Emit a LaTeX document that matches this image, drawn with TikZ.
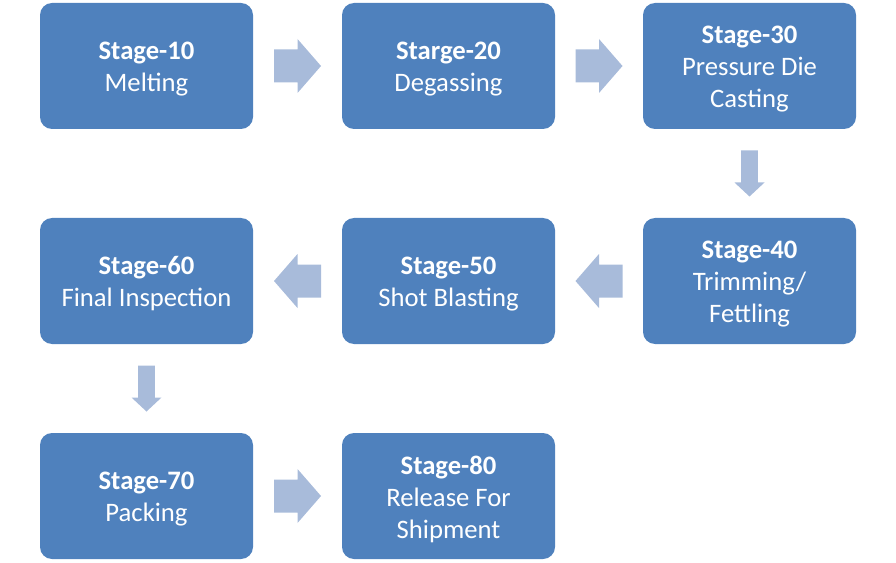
\documentclass[tikz,border=0pt]{standalone}
\usepackage{fontspec}
\setmainfont{Carlito}
\usetikzlibrary{calc}
\definecolor{boxblue}{HTML}{4F81BD}
\definecolor{arrowblue}{HTML}{A8BBDA}
\begin{document}
\begin{tikzpicture}[x=0.75pt,y=-0.75pt,
  stagebox/.style={fill=boxblue, rounded corners=9pt, minimum width=159.75pt,
    minimum height=94.5pt, inner sep=0pt,
    label={[stagetext]center:{#1}}},
  stagetext/.style={text=white, align=center, inner sep=0pt, yshift=-2.25pt,
    font=\fontsize{20}{24}\selectfont},
  harrow/.pic={\fill[arrowblue] (-23.5,16.5) -- (0,16.5) -- (0,27) -- (23.5,0)
    -- (0,-27) -- (0,-16.5) -- (-23.5,-16.5) -- cycle;},
  varrow/.pic={\fill[arrowblue] (-8.3,-23) -- (8.3,-23) -- (8.3,9) -- (15,9)
    -- (0,23) -- (-15,9) -- (-8.3,9) -- cycle;}]
\useasboundingbox (0,0) rectangle (896,563);
\node[stagebox={\textbf{Stage-10}\\Melting}] (s10) at (146.5,66) {};
\node[stagebox={\textbf{Starge-20}\\Degassing}] (s20) at (448.5,66) {};
\node[stagebox={\textbf{Stage-30}\\Pressure Die\\Casting}] (s30) at (749.5,66) {};
\node[stagebox={\textbf{Stage-40}\\Trimming/\\Fettling}] (s40) at (749.5,281) {};
\node[stagebox={\textbf{Stage-50}\\Shot Blasting}] (s50) at (448.5,281) {};
\node[stagebox={\textbf{Stage-60}\\Final Inspection}] (s60) at (146.5,281) {};
\node[stagebox={\textbf{Stage-70}\\Packing}] (s70) at (146.5,496) {};
\node[stagebox={\textbf{Stage-80}\\Release For\\Shipment}] (s80) at (448.5,496) {};
\pic at ($(s10.east)!0.5!(s20.west)$) {harrow};
\pic at ($(s20.east)!0.5!(s30.west)$) {harrow};
\pic at ($(s30.south)!0.5!(s40.north)$) {varrow};
\pic[rotate=180] at ($(s40.west)!0.5!(s50.east)$) {harrow};
\pic[rotate=180] at ($(s50.west)!0.5!(s60.east)$) {harrow};
\pic at ($(s60.south)!0.5!(s70.north)$) {varrow};
\pic at ($(s70.east)!0.5!(s80.west)$) {harrow};
\end{tikzpicture}
\end{document}
